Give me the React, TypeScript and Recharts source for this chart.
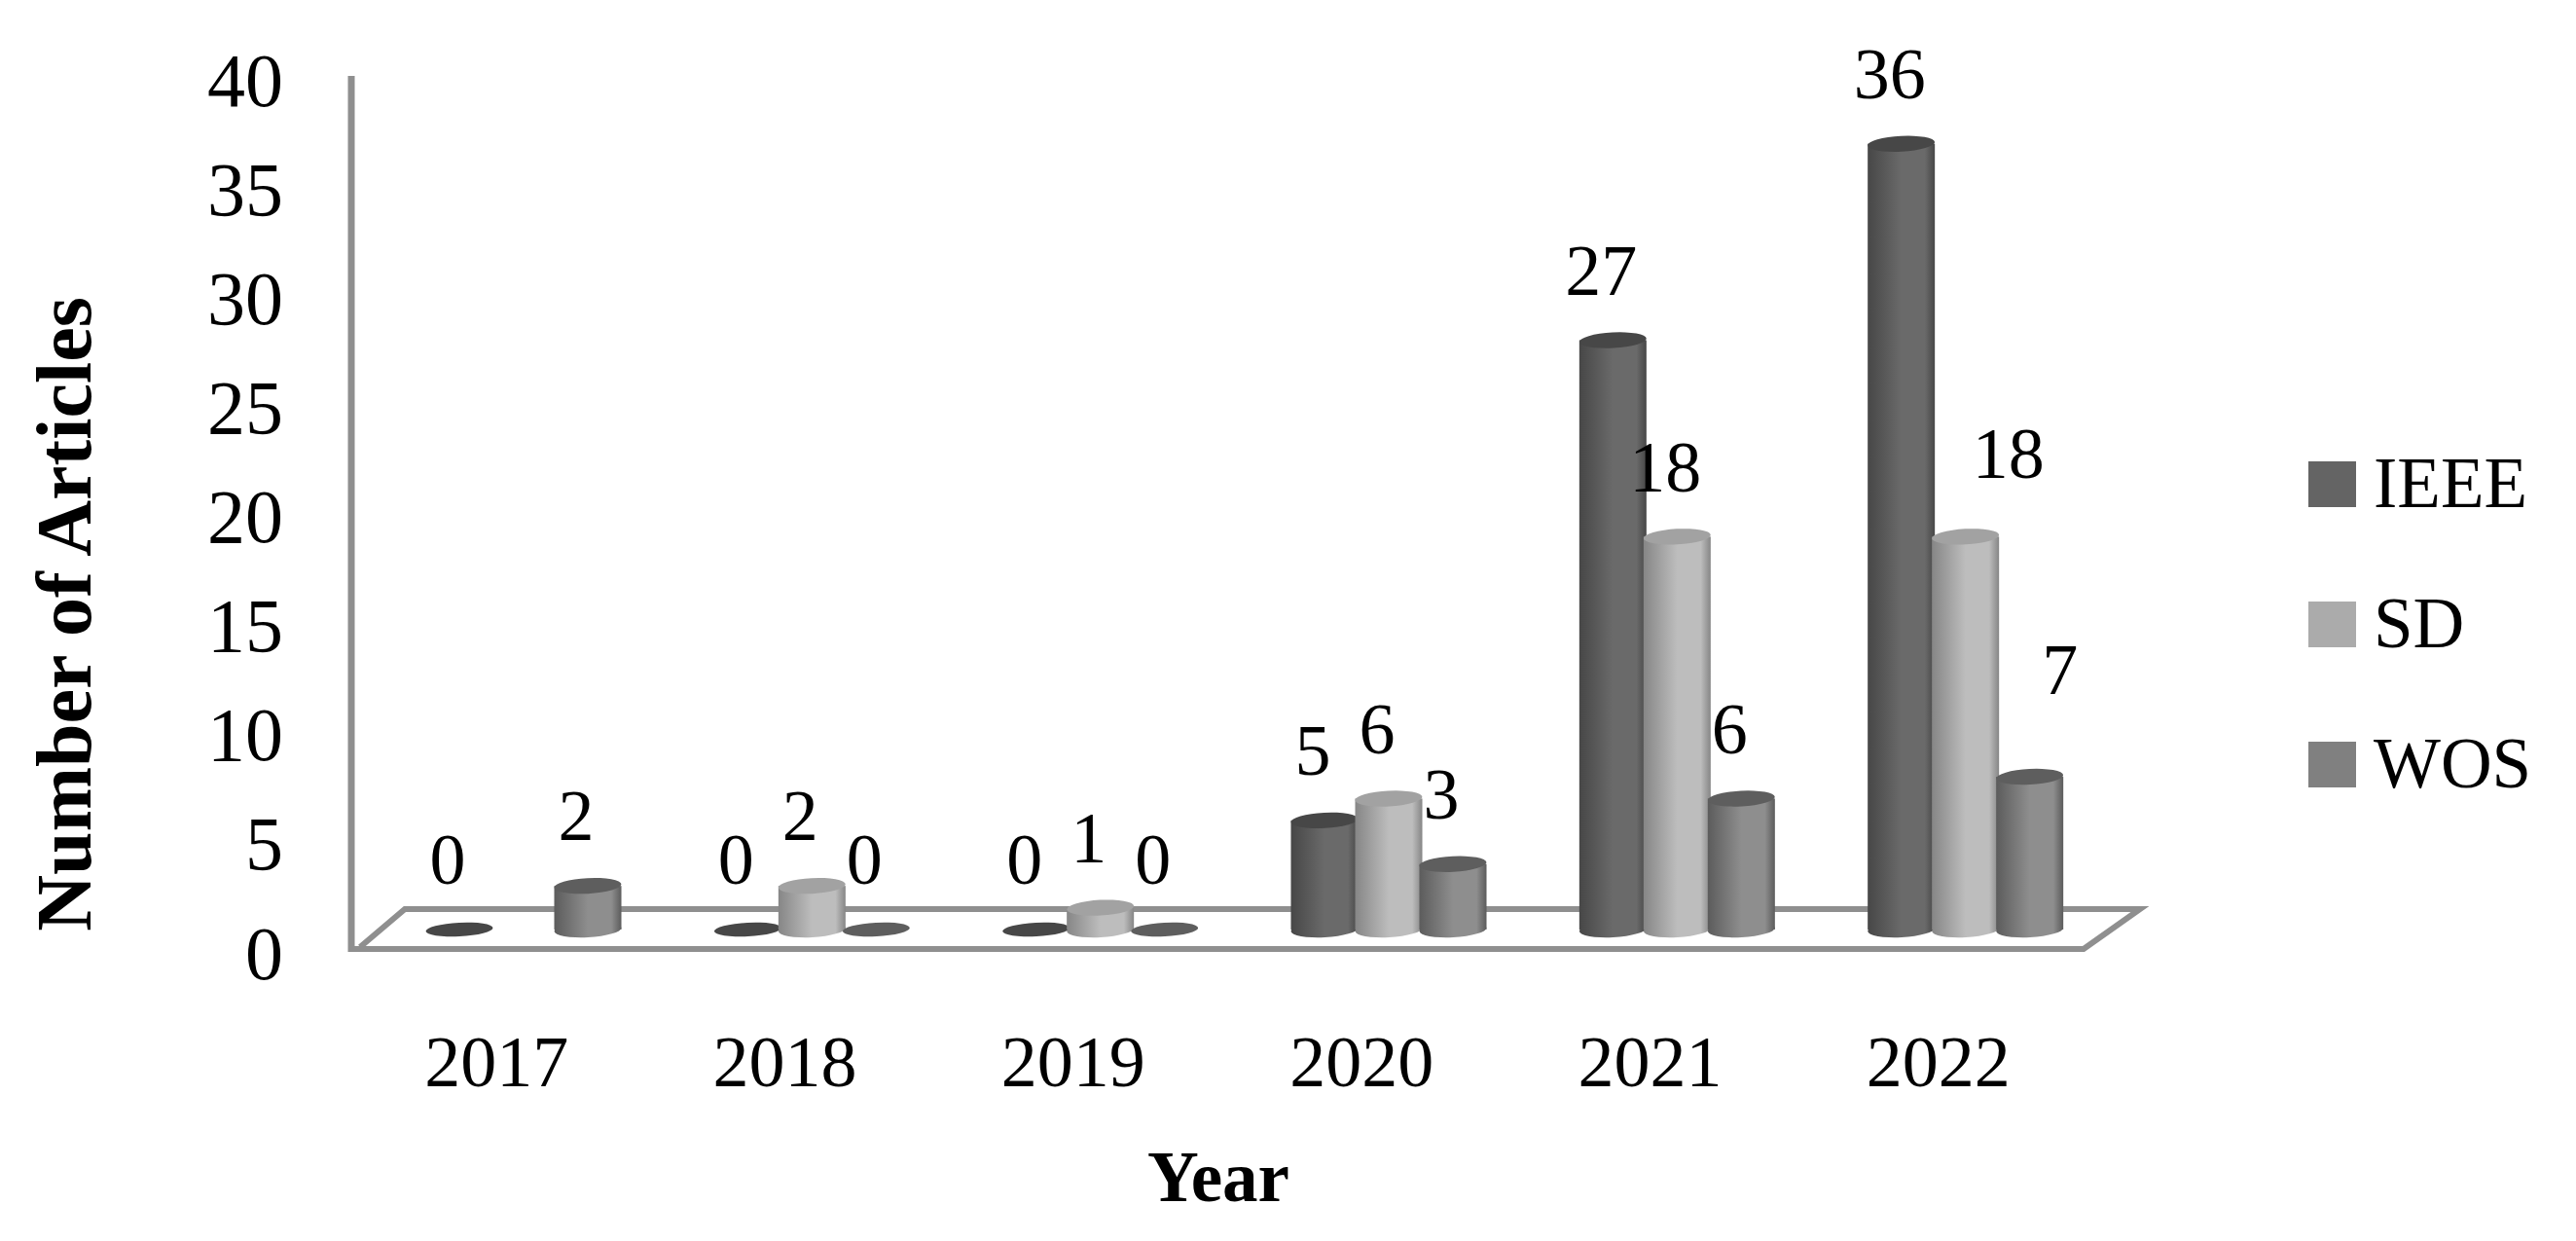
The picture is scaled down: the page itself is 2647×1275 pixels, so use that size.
import * as React from "react";
import {
  BarChart,
  Bar,
  XAxis,
  YAxis,
  Legend,
  LabelList,
  usePlotArea,
} from "recharts";

const YEARS = ["2017", "2018", "2019", "2020", "2021", "2022"];
const IEEE = [0, 0, 0, 5, 27, 36];
const SD = [null, 2, 1, 6, 18, 18];
const WOS = [2, 0, 0, 3, 6, 7];
const Y_TICKS = [0, 5, 10, 15, 20, 25, 30, 35, 40];

const SERIES = [
  { key: "IEEE", swatch: "#646464", cap: "#474747", edge: "#474747", mid: "#6a6a6a" },
  { key: "SD", swatch: "#ababab", cap: "#a2a2a2", edge: "#868686", mid: "#bdbdbd" },
  { key: "WOS", swatch: "#808080", cap: "#5e5e5e", edge: "#5c5c5c", mid: "#8e8e8e" },
];

const data = YEARS.map((year, i) => ({ year, IEEE: IEEE[i], SD: SD[i], WOS: WOS[i] }));

const FONT = "'Liberation Serif', serif";
const AXIS_GREY = "#8f8f8f";

// a few data labels sit away from the bar in the original
// (LabelList skips the empty 2017 SD entry, so the SD index runs one short)
const LABEL_SHIFT: Record<string, [number, number]> = {
  "SD-4": [44, -86],
  "WOS-5": [31, -110],
};

const Floor = () => {
  const plot = usePlotArea();
  if (!plot) return null;
  const left = plot.x - 29;
  const right = plot.x + plot.width + 31;
  const zero = plot.y + plot.height;
  const front = zero + 20;
  const back = zero - 21;
  return (
    <g fill="none" stroke={AXIS_GREY}>
      <path
        d={`M${left + 9} ${front - 2} L${left + 55} ${back} L${right} ${back} L${right - 58} ${front} L${left} ${front}`}
        strokeWidth={6}
      />
      <path d={`M${left} ${front + 3} L${left} ${plot.y + 20}`} strokeWidth={7} />
    </g>
  );
};

const cylinder = (key: string, cap: string) => (props: any) => {
  const { x, y, width, height, payload } = props;
  if (payload[key] == null) return null;
  const rx = width / 2 + 1.5;
  const cx = x + width / 2;
  const ry = 8;
  const tilt = (py: number) => `rotate(-3 ${cx} ${py})`;
  if (!height) {
    return <ellipse cx={cx} cy={y} rx={rx} ry={ry - 1} fill={cap} transform={tilt(y)} />;
  }
  return (
    <g>
      <ellipse cx={cx} cy={y + height} rx={rx} ry={ry} fill={`url(#grad-${key})`} transform={tilt(y + height)} />
      <rect x={cx - rx} y={y} width={rx * 2} height={height} fill={`url(#grad-${key})`} />
      <ellipse cx={cx} cy={y} rx={rx} ry={ry} fill={cap} transform={tilt(y)} />
    </g>
  );
};

const valueLabel = (key: string) => (props: any) => {
  const { x, y, width, value, index } = props;
  if (value == null) return null;
  const [dx, dy] = LABEL_SHIFT[`${key}-${index}`] ?? [-12, -72];
  return (
    <text
      x={x + width / 2 + dx}
      y={y + dy}
      dy="0.34em"
      textAnchor="middle"
      fontFamily={FONT}
      fontSize={74}
      fill="#000"
    >
      {value}
    </text>
  );
};

const YTick = (props: any) => {
  const { x, y, payload } = props;
  return (
    <text x={x - 91} y={y + 24} dy="0.34em" textAnchor="end" fontFamily={FONT} fontSize={78} fill="#000">
      {payload.value}
    </text>
  );
};

const XTick = (props: any) => {
  const { x, y, payload } = props;
  return (
    <text x={x - 28} y={y + 128} dy="0.34em" textAnchor="middle" fontFamily={FONT} fontSize={74} fill="#000">
      {payload.value}
    </text>
  );
};

const LegendBox = () => (
  <div style={{ fontFamily: FONT, fontSize: 73, color: "#000" }}>
    {SERIES.map((s) => (
      <div key={s.key} style={{ display: "flex", alignItems: "center", height: 144 }}>
        <span style={{ width: 49, height: 47, background: s.swatch, marginRight: 18 }} />
        <span>{s.key}</span>
      </div>
    ))}
  </div>
);

export default function App() {
  return (
    <div style={{ margin: -8, width: 2647, height: 1275, overflow: "hidden" }}>
      <BarChart
        width={2647}
        height={1275}
        data={data}
        margin={{ top: 58, right: 204, bottom: 220, left: 290 }}
        barSize={66}
        barGap={0}
        barCategoryGap={82}
      >
        <defs>
          {SERIES.map((s) => (
            <linearGradient key={s.key} id={`grad-${s.key}`} x1="0" y1="0" x2="1" y2="0">
              <stop offset="0" stopColor={s.edge} />
              <stop offset="0.5" stopColor={s.mid} />
              <stop offset="0.85" stopColor={s.mid} />
              <stop offset="1" stopColor={s.edge} />
            </linearGradient>
          ))}
        </defs>
        <Floor />
        <XAxis dataKey="year" height={100} axisLine={false} tickLine={false} tick={<XTick />} interval={0} />
        <YAxis
          width={100}
          domain={[0, 40]}
          ticks={Y_TICKS}
          axisLine={false}
          tickLine={false}
          tick={<YTick />}
          interval={0}
        />
        <Legend
          layout="vertical"
          align="right"
          verticalAlign="middle"
          content={<LegendBox />}
          wrapperStyle={{ left: 2372, right: "auto", top: 425, width: 275 }}
        />
        {SERIES.map((s) => (
          <Bar key={s.key} dataKey={s.key} isAnimationActive={false} shape={cylinder(s.key, s.cap)}>
            <LabelList dataKey={s.key} content={valueLabel(s.key)} />
          </Bar>
        ))}
        <text
          x={1252}
          y={1209}
          dy="0.34em"
          textAnchor="middle"
          fontFamily={FONT}
          fontWeight="bold"
          fontSize={73}
          fill="#000"
        >
          Year
        </text>
        <text
          transform="translate(66 631) rotate(-90)"
          dy="0.34em"
          textAnchor="middle"
          fontFamily={FONT}
          fontWeight="bold"
          fontSize={80}
          fill="#000"
        >
          Number of Articles
        </text>
      </BarChart>
    </div>
  );
}
